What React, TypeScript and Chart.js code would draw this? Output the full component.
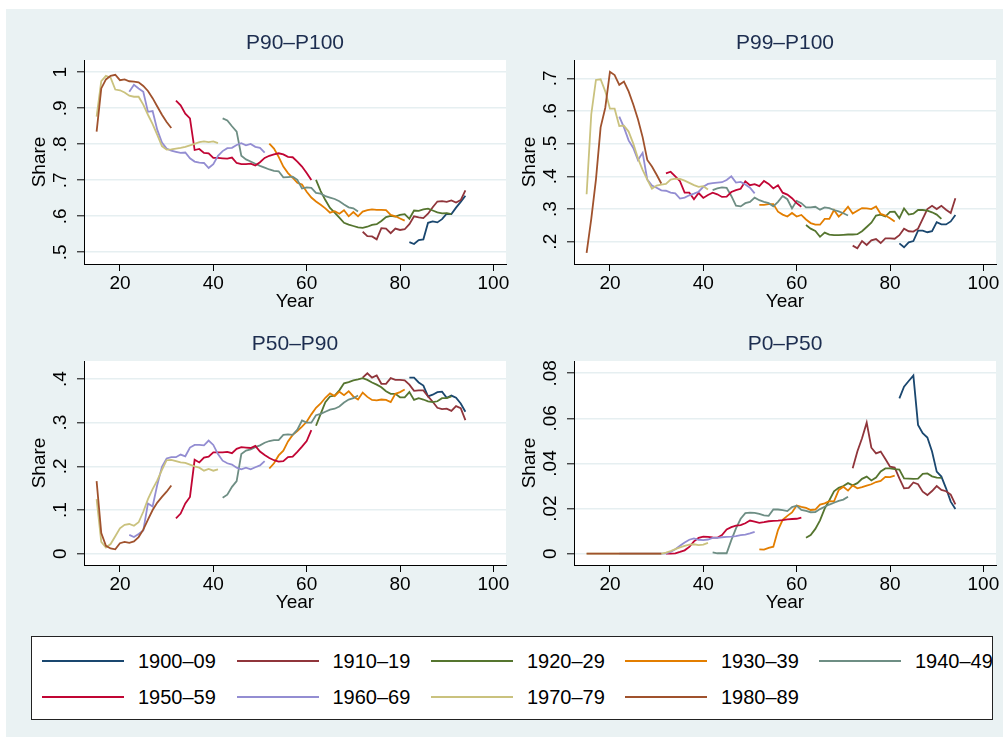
import React, { useEffect, useRef } from 'react';
import { Chart, registerables } from 'chart.js';

Chart.register(...registerables);

// ---------- data ----------
const cohorts = ['1900–09', '1910–19', '1920–29', '1930–39', '1940–49', '1950–59', '1960–69', '1970–79', '1980–89'];
// first age (x value) of each cohort's series; one value per year after that
const startAge = [82, 72, 62, 52, 42, 32, 22, 15, 15];
const xTicks = [20, 40, 60, 80, 100];

const yTicksP90P100 = [0.5, 0.6, 0.7, 0.8, 0.9, 1];
const yTicksP99P100 = [0.2, 0.3, 0.4, 0.5, 0.6, 0.7];
const yTicksP50P90 = [0, 0.1, 0.2, 0.3, 0.4];
const yTicksP0P50 = [0, 0.02, 0.04, 0.06, 0.08];

const p90p100: number[][] = [
  [0.528, 0.523, 0.534, 0.536, 0.582, 0.586, 0.583, 0.592, 0.607, 0.606, 0.624, 0.64, 0.657],
  [0.557, 0.545, 0.544, 0.536, 0.567, 0.566, 0.553, 0.566, 0.562, 0.564, 0.578, 0.6, 0.597, 0.595, 0.607, 0.625, 0.641, 0.642, 0.64, 0.644, 0.638, 0.645, 0.672],
  [0.701, 0.67, 0.645, 0.623, 0.61, 0.596, 0.582, 0.577, 0.573, 0.569, 0.568, 0.571, 0.576, 0.578, 0.587, 0.598, 0.601, 0.599, 0.604, 0.606, 0.593, 0.616, 0.615, 0.619, 0.621, 0.616, 0.611, 0.608, 0.609, 0.606],
  [0.802, 0.788, 0.765, 0.738, 0.72, 0.707, 0.693, 0.688, 0.668, 0.652, 0.641, 0.632, 0.622, 0.61, 0.614, 0.607, 0.617, 0.6, 0.612, 0.6, 0.613, 0.617, 0.619, 0.618, 0.618, 0.617, 0.604, 0.6, 0.594, 0.588],
  [0.872, 0.866, 0.85, 0.835, 0.768, 0.758, 0.752, 0.746, 0.74, 0.735, 0.73, 0.726, 0.725, 0.708, 0.709, 0.71, 0.701, 0.677, 0.68, 0.679, 0.665, 0.663, 0.656, 0.652, 0.648, 0.642, 0.633, 0.625, 0.622, 0.613],
  [0.921, 0.908, 0.885, 0.872, 0.784, 0.787, 0.776, 0.775, 0.762, 0.762, 0.761, 0.76, 0.763, 0.748, 0.745, 0.745, 0.746, 0.741, 0.75, 0.762, 0.768, 0.772, 0.775, 0.772, 0.765, 0.764, 0.752, 0.738, 0.72, 0.701],
  [0.946, 0.965, 0.955, 0.946, 0.89, 0.892, 0.84, 0.805, 0.788, 0.782, 0.779, 0.776, 0.777, 0.761, 0.752, 0.749, 0.748, 0.734, 0.745, 0.768, 0.781, 0.789, 0.79, 0.798, 0.803, 0.797, 0.801, 0.793, 0.79, 0.777],
  [0.877, 0.975, 0.99, 0.985, 0.952, 0.95, 0.944, 0.935, 0.932, 0.932, 0.91, 0.882, 0.856, 0.826, 0.795, 0.785, 0.786, 0.788, 0.79, 0.793, 0.797, 0.801, 0.806, 0.808, 0.806, 0.808, 0.803],
  [0.835, 0.955, 0.98, 0.99, 0.993, 0.978, 0.98, 0.975, 0.974, 0.972, 0.962, 0.948, 0.928, 0.905, 0.882, 0.862, 0.845],
];

const p99p100: number[][] = [
  [0.195, 0.183, 0.198, 0.202, 0.234, 0.234, 0.229, 0.232, 0.26, 0.253, 0.253, 0.262, 0.282],
  [0.188, 0.18, 0.202, 0.19, 0.204, 0.208, 0.196, 0.21, 0.21, 0.209, 0.22, 0.24, 0.232, 0.231, 0.24, 0.27, 0.3, 0.31, 0.3, 0.31, 0.298, 0.288, 0.333],
  [0.251, 0.24, 0.233, 0.215, 0.228, 0.222, 0.22, 0.22, 0.221, 0.222, 0.222, 0.223, 0.232, 0.245, 0.258, 0.28, 0.283, 0.277, 0.291, 0.292, 0.272, 0.302, 0.283, 0.286, 0.297, 0.297, 0.295, 0.29, 0.283, 0.27],
  [0.313, 0.313, 0.315, 0.315, 0.292, 0.283, 0.277, 0.288, 0.277, 0.282, 0.268, 0.257, 0.252, 0.252, 0.27, 0.27, 0.297, 0.277, 0.29, 0.307, 0.286, 0.295, 0.303, 0.302, 0.3, 0.308, 0.285, 0.28, 0.272, 0.262],
  [0.358, 0.363, 0.366, 0.365, 0.34, 0.31, 0.308, 0.318, 0.322, 0.335, 0.327, 0.322, 0.318, 0.308, 0.322, 0.34, 0.33, 0.302, 0.325, 0.318, 0.305, 0.305, 0.307, 0.298, 0.305, 0.303, 0.297, 0.293, 0.287, 0.28],
  [0.409, 0.414, 0.4, 0.385, 0.35, 0.35, 0.33, 0.349, 0.334, 0.343, 0.35, 0.345, 0.337, 0.338, 0.352, 0.358, 0.362, 0.385, 0.373, 0.376, 0.37, 0.386, 0.377, 0.363, 0.373, 0.35, 0.344, 0.333, 0.318, 0.307],
  [0.583, 0.55, 0.51, 0.487, 0.45, 0.472, 0.39, 0.372, 0.365, 0.357, 0.356, 0.35, 0.348, 0.332, 0.335, 0.342, 0.347, 0.353, 0.368, 0.377, 0.379, 0.381, 0.382, 0.389, 0.4, 0.381, 0.383, 0.375, 0.365, 0.348],
  [0.345, 0.59, 0.695, 0.697, 0.66, 0.607, 0.607, 0.554, 0.555, 0.537, 0.5, 0.455, 0.42, 0.39, 0.362, 0.372, 0.375, 0.377, 0.39, 0.393, 0.392, 0.387, 0.38, 0.373, 0.368, 0.37, 0.36],
  [0.166, 0.27, 0.39, 0.55, 0.61, 0.72, 0.71, 0.68, 0.69, 0.66, 0.62, 0.575, 0.52, 0.45, 0.43, 0.405, 0.378],
];

const p50p90: number[][] = [
  [0.403, 0.403, 0.392, 0.385, 0.36, 0.364, 0.37, 0.371, 0.357, 0.362, 0.357, 0.344, 0.325],
  [0.403, 0.413, 0.403, 0.408, 0.389, 0.389, 0.402, 0.398, 0.398, 0.397, 0.387, 0.373, 0.374, 0.374, 0.36, 0.348, 0.334, 0.331, 0.332, 0.327, 0.338, 0.333, 0.306],
  [0.293, 0.32, 0.347, 0.36, 0.362, 0.374, 0.39, 0.393, 0.397, 0.399, 0.402, 0.398, 0.392, 0.387, 0.381, 0.372, 0.366, 0.366, 0.358, 0.358, 0.37, 0.352, 0.356, 0.353, 0.349, 0.347, 0.349, 0.356, 0.356, 0.36],
  [0.195, 0.207, 0.225, 0.236, 0.257, 0.272, 0.281, 0.291, 0.302, 0.319, 0.334, 0.344, 0.357, 0.367, 0.361, 0.371, 0.363, 0.372, 0.36, 0.353, 0.369, 0.359, 0.352, 0.351, 0.353, 0.352, 0.347, 0.366, 0.37, 0.376],
  [0.128, 0.135, 0.153, 0.166, 0.228, 0.236, 0.239, 0.244, 0.248, 0.254, 0.258, 0.26, 0.26, 0.272, 0.273, 0.272, 0.284, 0.305, 0.3, 0.3, 0.317, 0.32, 0.325, 0.33, 0.332, 0.337, 0.346, 0.353, 0.356, 0.362],
  [0.081, 0.092, 0.115, 0.13, 0.215, 0.209, 0.22, 0.222, 0.232, 0.232, 0.232, 0.233, 0.23, 0.24, 0.244, 0.243, 0.242, 0.247, 0.234, 0.226, 0.219, 0.214, 0.211, 0.212, 0.221, 0.222, 0.233, 0.245, 0.258, 0.283],
  [0.043, 0.038, 0.045, 0.053, 0.115, 0.108, 0.158, 0.199, 0.218, 0.221, 0.221, 0.227, 0.223, 0.243, 0.249, 0.249, 0.248, 0.259, 0.249, 0.228, 0.213, 0.207, 0.204, 0.197, 0.193, 0.197, 0.193, 0.198, 0.202, 0.212],
  [0.125, 0.027, 0.014, 0.022, 0.04, 0.058, 0.066, 0.068, 0.064, 0.072, 0.096, 0.125, 0.148, 0.168, 0.192, 0.214, 0.215, 0.212, 0.209, 0.208, 0.204, 0.2, 0.197, 0.19, 0.194, 0.19, 0.193],
  [0.166, 0.047, 0.018, 0.012, 0.01, 0.024, 0.027, 0.025, 0.028, 0.038, 0.055, 0.078, 0.1, 0.117, 0.13, 0.142, 0.156],
];

const p0p50: number[][] = [
  [0.0689, 0.0741, 0.0766, 0.079, 0.0571, 0.0534, 0.0515, 0.0453, 0.0364, 0.0342, 0.029, 0.0231, 0.0198],
  [0.0379, 0.0453, 0.0512, 0.0581, 0.047, 0.0445, 0.0453, 0.042, 0.0386, 0.0382, 0.0334, 0.029, 0.0292, 0.0316, 0.0308, 0.0275, 0.026, 0.0278, 0.03, 0.0283, 0.0277, 0.0262, 0.0219],
  [0.0071, 0.0083, 0.011, 0.0148, 0.02, 0.0237, 0.0277, 0.0292, 0.03, 0.0313, 0.0303, 0.0313, 0.0332, 0.0342, 0.0325, 0.0338, 0.0365, 0.0378, 0.0378, 0.0375, 0.0373, 0.0334, 0.0333, 0.0332, 0.0333, 0.0354, 0.0356, 0.0343, 0.0337, 0.0336],
  [0.0019, 0.0018, 0.0026, 0.0031, 0.0105, 0.015, 0.0168, 0.0183, 0.0214, 0.0208, 0.0203, 0.0194, 0.0196, 0.0218, 0.0223, 0.0233, 0.0232, 0.0282, 0.0297, 0.028, 0.0303, 0.029, 0.0295, 0.0302, 0.0308, 0.0318, 0.0323, 0.0341, 0.034, 0.0346],
  [0.0006, 0.0002, 0.0002, 0.0002, 0.006, 0.0112, 0.0155, 0.018, 0.0182, 0.0181, 0.0177, 0.017, 0.0168, 0.0196, 0.0196, 0.0193, 0.0189, 0.0207, 0.0213, 0.0194, 0.019, 0.0184, 0.0185, 0.0198, 0.0208, 0.0218, 0.0226, 0.0234, 0.024, 0.0253],
  [0, 0, 0.0002, 0.0008, 0.0015, 0.003, 0.0055, 0.007, 0.0076, 0.0075, 0.0072, 0.0071, 0.0083, 0.0108, 0.0118, 0.0125, 0.0127, 0.0135, 0.0147, 0.0142, 0.0137, 0.014, 0.0144, 0.0146, 0.0147, 0.0149, 0.0152, 0.0154, 0.0155, 0.016],
  [0, 0, 0, 0, 0, 0, 0, 0, 0, 0, 0.0002, 0.0008, 0.002, 0.0035, 0.005, 0.0062, 0.0068, 0.0062, 0.006, 0.0063, 0.007, 0.007, 0.0073, 0.0075, 0.0076, 0.0078, 0.0082, 0.0085, 0.009, 0.0097],
  [0, 0, 0, 0, 0, 0, 0, 0, 0, 0, 0, 0, 0, 0, 0, 0, 0, 0.0005, 0.0012, 0.002, 0.0028, 0.0035, 0.004, 0.0042, 0.0038, 0.004, 0.0048],
  [0, 0, 0, 0, 0, 0, 0, 0, 0, 0, 0, 0, 0, 0, 0, 0, 0],
];

// ---------- styles ----------
const lineColors = ['#1a476f', '#90353b', '#55752f', '#e37e00', '#6e8e84', '#c10534', '#938dd2', '#cac27e', '#a0522d'];
const FONT = "'Liberation Sans', Arial, Helvetica, sans-serif";
const BG = '#eaf2f3';
const GRID = '#e6eff1';
const TITLE_COLOR = '#1c2d4f';

// layout constants (px)
const YAXW = 74;     // room for y axis labels/title
const TITLEH = 40;   // room above plot for panel title
const XAXH = 62;     // room below plot for x axis
const PLOTW = 422;
const PLOTH = 204;
const RPAD = 16;
const X_MIN = 12.3;
const X_MAX = 102.7;
const TICK_FONT = 19;
const TITLE_FONT = 21;
const YLABEL_CENTER = 23.3; // distance of y tick label centre from the axis line

function fmtTick(v: number): string {
  if (Math.abs(v) < 1e-9) return '0';
  const s = String(Math.round(v * 10000) / 10000);
  return s.startsWith('0.') ? s.slice(1) : s;
}

function measureWidest(labels: string[], size: number): number {
  const c = document.createElement('canvas').getContext('2d');
  if (!c) return 16;
  c.font = `${size}px ${FONT}`;
  return Math.max(...labels.map((l) => c.measureText(l).width));
}

const whitePlot = {
  id: 'whitePlot',
  beforeDraw(chart: any) {
    const { ctx, chartArea } = chart;
    if (!chartArea) return;
    ctx.save();
    ctx.fillStyle = '#ffffff';
    ctx.fillRect(chartArea.left, chartArea.top, chartArea.right - chartArea.left, chartArea.bottom - chartArea.top);
    ctx.restore();
  },
};

type PanelProps = {
  title: string;
  series: number[][];
  yTicks: number[];
  yMin: number;
  yMax: number;
  plotLeft: number;
  plotTop: number;
};

function Panel({ title, series, yTicks, yMin, yMax, plotLeft, plotTop }: PanelProps) {
  const ref = useRef<HTMLCanvasElement>(null);
  const W = YAXW + PLOTW + RPAD;
  const H = TITLEH + PLOTH + XAXH;

  useEffect(() => {
    if (!ref.current) return;
    const widest = measureWidest(yTicks.map(fmtTick), TICK_FONT);
    const yPad = Math.max(0, YLABEL_CENTER - 7 - widest / 2);
    const titleLine = TITLE_FONT * 1.2;
    const chart = new Chart(ref.current, {
      type: 'line',
      data: {
        datasets: series.map((vals, i) => ({
          label: cohorts[i],
          data: vals.map((v, k) => ({ x: startAge[i] + k, y: v })),
          borderColor: lineColors[i],
          backgroundColor: lineColors[i],
          borderWidth: 1.8,
          pointRadius: 0,
          pointHoverRadius: 0,
          fill: false,
          tension: 0,
          order: series.length - 1 - i,
        })),
      },
      options: {
        responsive: false,
        animation: false,
        devicePixelRatio: 1,
        events: [],
        layout: { padding: { left: 0, top: 0, right: RPAD, bottom: 0 } },
        plugins: {
          legend: { display: false },
          tooltip: { enabled: false },
          title: {
            display: true,
            text: title,
            fullSize: false,
            color: TITLE_COLOR,
            font: { family: FONT, size: TITLE_FONT, weight: 'normal' },
            padding: { top: 23 - titleLine / 2, bottom: TITLEH - 23 - titleLine / 2 },
          },
        },
        scales: {
          x: {
            type: 'linear',
            min: X_MIN,
            max: X_MAX,
            afterBuildTicks: (s: any) => {
              s.ticks = xTicks.map((v) => ({ value: v }));
            },
            afterFit: (s: any) => {
              s.height = XAXH;
              s.paddingLeft = 0;
              s.paddingRight = 0;
            },
            ticks: {
              autoSkip: false,
              minRotation: 0,
              maxRotation: 0,
              padding: 1,
              color: '#000',
              font: { family: FONT, size: TICK_FONT },
              callback: (v: any) => String(v),
            },
            grid: { drawOnChartArea: false, drawTicks: true, tickLength: 7, tickColor: '#000', tickWidth: 1 },
            border: { display: true, color: '#000', width: 1 },
            title: {
              display: true,
              text: 'Year',
              color: '#000',
              font: { family: FONT, size: TICK_FONT },
              padding: { top: 0, bottom: 12.6 },
            },
          },
          y: {
            type: 'linear',
            min: yMin,
            max: yMax,
            afterBuildTicks: (s: any) => {
              s.ticks = yTicks.map((v) => ({ value: v }));
            },
            afterFit: (s: any) => {
              s.width = YAXW;
              s.paddingTop = 0;
              s.paddingBottom = 0;
            },
            ticks: {
              autoSkip: false,
              minRotation: 90,
              maxRotation: 90,
              crossAlign: 'center',
              padding: yPad,
              color: '#000',
              font: { family: FONT, size: TICK_FONT },
              callback: (v: any) => fmtTick(Number(v)),
            },
            grid: { color: GRID, lineWidth: 1.6, drawTicks: true, tickLength: 7, tickColor: '#000', tickWidth: 1 },
            border: { display: true, color: '#000', width: 1 },
            title: {
              display: true,
              text: 'Share',
              color: '#000',
              font: { family: FONT, size: TICK_FONT },
              padding: { top: 18.6, bottom: 0 },
            },
          },
        },
      } as any,
      plugins: [whitePlot],
    });
    return () => chart.destroy();
  }, []);

  return (
    <canvas
      ref={ref}
      width={W}
      height={H}
      style={{ position: 'absolute', left: plotLeft - YAXW, top: plotTop - TITLEH, width: W, height: H }}
    />
  );
}

const legendColX = [42, 236.5, 431, 625, 819];
const legendRowY = [661, 697];

function Legend() {
  return (
    <>
      <div
        style={{
          position: 'absolute',
          left: 31,
          top: 636,
          width: 962,
          height: 84,
          boxSizing: 'border-box',
          border: '1px solid #222',
          background: '#fff',
        }}
      />
      {cohorts.map((c, i) => {
        const x = legendColX[i % 5];
        const y = legendRowY[Math.floor(i / 5)];
        return (
          <React.Fragment key={c}>
            <div style={{ position: 'absolute', left: x, top: y - 1, width: 82, height: 2, background: lineColors[i] }} />
            <div
              style={{
                position: 'absolute',
                left: x + 96,
                top: y - 12,
                height: 24,
                lineHeight: '24px',
                fontFamily: FONT,
                fontSize: 20,
                color: '#000',
                whiteSpace: 'nowrap',
              }}
            >
              {c}
            </div>
          </React.Fragment>
        );
      })}
    </>
  );
}

export default function App() {
  return (
    <div style={{ position: 'absolute', left: 0, top: 0, width: 1003, height: 737, background: '#fff', overflow: 'hidden' }}>
      <div style={{ position: 'absolute', left: 6, top: 9, right: 0, bottom: 0, background: BG }} />
      <Panel title="P90–P100" series={p90p100} yTicks={yTicksP90P100} yMin={0.4675} yMax={1.034} plotLeft={84} plotTop={60} />
      <Panel title="P99–P100" series={p99p100} yTicks={yTicksP99P100} yMin={0.1318} yMax={0.756} plotLeft={574} plotTop={60} />
      <Panel title="P50–P90" series={p50p90} yTicks={yTicksP50P90} yMin={-0.0259} yMax={0.4412} plotLeft={84} plotTop={361} />
      <Panel title="P0–P50" series={p0p50} yTicks={yTicksP0P50} yMin={-0.005} yMax={0.08545} plotLeft={574} plotTop={361} />
      <Legend />
    </div>
  );
}
